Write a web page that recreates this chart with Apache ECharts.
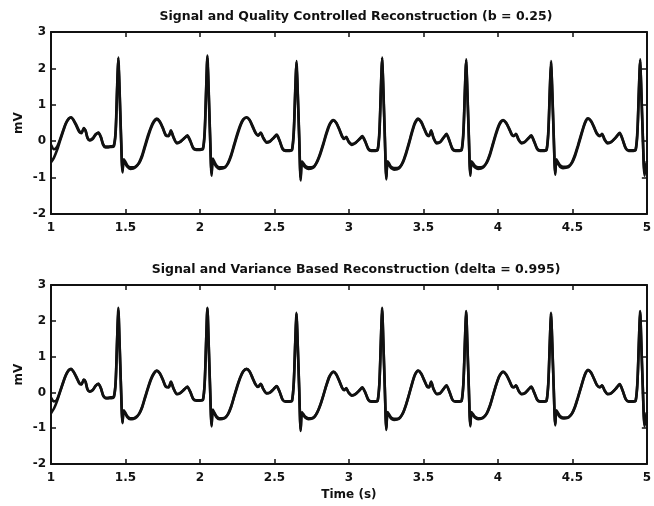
<!DOCTYPE html>
<html>
<head>
<meta charset="utf-8">
<script src="https://cdn.jsdelivr.net/npm/echarts@6/dist/echarts.min.js"></script>
<style>
  html, body { margin: 0; padding: 0; background: #fff; }
  #box { width: 654px; height: 506px; }
</style>
</head>
<body>
<div id="box"></div>
<script>
// time axis (s) at its turning points
const timeS = [
  1.000, 1.020, 1.040, 1.060, 1.080, 1.100, 1.120, 1.135, 1.150, 1.170, 1.190, 1.205, 1.220, 1.232, 1.245, 1.260, 1.280, 1.300, 1.318, 1.335, 1.350, 1.365, 1.380, 1.400,
  1.407, 1.422, 1.434, 1.444, 1.452, 1.460, 1.470, 1.480, 1.488, 1.497, 1.512, 1.532, 1.552, 1.572, 1.592, 1.612, 1.632, 1.652, 1.672, 1.692, 1.710, 1.730, 1.750, 1.770, 1.790, 1.805, 1.822, 1.845, 1.865, 1.890, 1.915, 1.935, 1.955, 1.975, 2.000,
  2.020, 2.032, 2.042, 2.050, 2.058, 2.068, 2.078, 2.086, 2.095, 2.110, 2.130, 2.150, 2.170, 2.190, 2.210, 2.230, 2.250, 2.270, 2.290, 2.313, 2.333, 2.353, 2.373, 2.390, 2.408, 2.425, 2.447, 2.470, 2.495, 2.515, 2.535, 2.555, 2.575, 2.603,
  2.618, 2.630, 2.640, 2.648, 2.656, 2.666, 2.676, 2.684, 2.693, 2.708, 2.728, 2.748, 2.768, 2.788, 2.808, 2.828, 2.848, 2.868, 2.885, 2.896, 2.915, 2.935, 2.955, 2.968, 2.982, 2.998, 3.020, 3.045, 3.070, 3.090, 3.110, 3.130, 3.150, 3.178,
  3.193, 3.205, 3.215, 3.223, 3.231, 3.241, 3.251, 3.259, 3.268, 3.283, 3.303, 3.323, 3.343, 3.363, 3.383, 3.403, 3.423, 3.443, 3.465, 3.485, 3.505, 3.525, 3.538, 3.552, 3.568, 3.590, 3.612, 3.635, 3.655, 3.675, 3.695, 3.715, 3.742,
  3.757, 3.769, 3.779, 3.787, 3.795, 3.805, 3.815, 3.823, 3.832, 3.847, 3.867, 3.887, 3.907, 3.927, 3.947, 3.967, 3.987, 4.007, 4.022, 4.035, 4.055, 4.075, 4.095, 4.108, 4.122, 4.138, 4.158, 4.180, 4.204, 4.224, 4.244, 4.264, 4.284, 4.312,
  4.327, 4.339, 4.349, 4.357, 4.365, 4.375, 4.385, 4.393, 4.402, 4.417, 4.437, 4.457, 4.477, 4.497, 4.517, 4.537, 4.557, 4.577, 4.592, 4.605, 4.625, 4.645, 4.665, 4.685, 4.700, 4.716, 4.737, 4.760, 4.790, 4.818, 4.838, 4.858, 4.878, 4.910,
  4.925, 4.937, 4.947, 4.955, 4.963, 4.973, 4.985, 5.000
];

// original ECG (mV)
const signalMv = [
  -0.58, -0.45, -0.25, 0.00, 0.25, 0.48, 0.62, 0.65, 0.58, 0.42, 0.25, 0.22, 0.36, 0.30, 0.08, 0.02, 0.06, 0.18, 0.24, 0.12, -0.08, -0.15, -0.15, -0.14,
  -0.14, -0.12, 0.30, 1.50, 2.30, 1.40, 0.10, -0.86, -0.50, -0.55, -0.66, -0.72, -0.72, -0.68, -0.60, -0.42, -0.15, 0.12, 0.36, 0.53, 0.60, 0.53, 0.36, 0.16, 0.14, 0.30, 0.12, -0.04, -0.02, 0.06, 0.16, 0.02, -0.18, -0.22, -0.22,
  -0.20, 0.30, 1.50, 2.35, 1.40, 0.10, -0.95, -0.48, -0.55, -0.66, -0.72, -0.72, -0.70, -0.60, -0.40, -0.12, 0.15, 0.40, 0.58, 0.65, 0.58, 0.40, 0.22, 0.15, 0.24, 0.10, -0.02, 0.00, 0.10, 0.18, 0.02, -0.20, -0.25, -0.25,
  -0.23, 0.30, 1.45, 2.20, 1.35, 0.10, -1.08, -0.55, -0.60, -0.68, -0.72, -0.72, -0.68, -0.56, -0.36, -0.10, 0.18, 0.42, 0.54, 0.57, 0.50, 0.32, 0.12, 0.06, 0.12, 0.00, -0.08, -0.04, 0.06, 0.14, 0.00, -0.20, -0.25, -0.25,
  -0.23, 0.30, 1.50, 2.30, 1.40, 0.10, -1.05, -0.55, -0.60, -0.70, -0.74, -0.74, -0.70, -0.58, -0.36, -0.08, 0.22, 0.48, 0.60, 0.52, 0.34, 0.16, 0.14, 0.30, 0.10, -0.04, -0.02, 0.10, 0.20, 0.02, -0.20, -0.25, -0.25,
  -0.23, 0.30, 1.45, 2.25, 1.35, 0.10, -0.95, -0.55, -0.60, -0.68, -0.72, -0.72, -0.68, -0.58, -0.38, -0.10, 0.18, 0.42, 0.53, 0.57, 0.50, 0.34, 0.16, 0.14, 0.20, 0.06, -0.04, -0.02, 0.08, 0.16, 0.00, -0.20, -0.25, -0.25,
  -0.23, 0.30, 1.45, 2.20, 1.35, 0.10, -0.92, -0.50, -0.56, -0.66, -0.70, -0.70, -0.68, -0.60, -0.42, -0.16, 0.12, 0.40, 0.56, 0.62, 0.55, 0.38, 0.20, 0.14, 0.20, 0.06, -0.04, -0.02, 0.10, 0.23, 0.05, -0.18, -0.25, -0.25,
  -0.23, 0.30, 1.45, 2.25, 1.35, 0.10, -0.95, -0.55
];

// quality controlled reconstruction, b = 0.25
const qualityReconMv = [
  -0.10, -0.22, -0.16, 0.04, 0.28, 0.50, 0.63, 0.66, 0.60, 0.45, 0.28, 0.24, 0.34, 0.28, 0.10, 0.03, 0.08, 0.19, 0.23, 0.10, -0.10, -0.17, -0.17, -0.16,
  -0.16, -0.14, 0.22, 1.40, 2.24, 1.48, 0.18, -0.80, -0.56, -0.60, -0.70, -0.76, -0.75, -0.70, -0.58, -0.38, -0.10, 0.17, 0.40, 0.56, 0.62, 0.55, 0.38, 0.18, 0.15, 0.28, 0.10, -0.06, -0.03, 0.07, 0.14, 0.00, -0.20, -0.24, -0.24,
  -0.22, 0.22, 1.42, 2.30, 1.48, 0.18, -0.88, -0.54, -0.60, -0.70, -0.76, -0.75, -0.72, -0.58, -0.36, -0.08, 0.20, 0.44, 0.60, 0.66, 0.59, 0.42, 0.24, 0.16, 0.22, 0.08, -0.04, -0.01, 0.09, 0.16, 0.00, -0.22, -0.27, -0.27,
  -0.25, 0.22, 1.36, 2.15, 1.42, 0.18, -1.00, -0.60, -0.65, -0.72, -0.76, -0.75, -0.70, -0.54, -0.32, -0.06, 0.22, 0.45, 0.56, 0.58, 0.51, 0.34, 0.14, 0.07, 0.11, -0.02, -0.10, -0.05, 0.05, 0.12, -0.02, -0.22, -0.27, -0.27,
  -0.25, 0.22, 1.42, 2.25, 1.48, 0.18, -0.98, -0.60, -0.65, -0.74, -0.78, -0.77, -0.72, -0.56, -0.32, -0.04, 0.26, 0.51, 0.62, 0.54, 0.36, 0.18, 0.15, 0.28, 0.08, -0.06, -0.03, 0.09, 0.18, 0.00, -0.22, -0.27, -0.27,
  -0.25, 0.22, 1.38, 2.20, 1.42, 0.18, -0.88, -0.60, -0.65, -0.72, -0.76, -0.75, -0.70, -0.56, -0.34, -0.06, 0.22, 0.45, 0.55, 0.58, 0.51, 0.36, 0.18, 0.15, 0.19, 0.04, -0.06, -0.03, 0.07, 0.14, -0.02, -0.22, -0.27, -0.27,
  -0.25, 0.22, 1.38, 2.15, 1.42, 0.18, -0.86, -0.56, -0.61, -0.70, -0.74, -0.73, -0.70, -0.58, -0.38, -0.12, 0.16, 0.43, 0.58, 0.63, 0.56, 0.40, 0.22, 0.15, 0.19, 0.04, -0.06, -0.03, 0.09, 0.21, 0.03, -0.20, -0.27, -0.27,
  -0.25, 0.22, 1.38, 2.20, 1.42, 0.18, -0.88, -0.60
];

// variance based reconstruction, delta = 0.995
const varianceReconMv = [
  -0.15, -0.25, -0.20, 0.02, 0.27, 0.49, 0.63, 0.66, 0.59, 0.44, 0.27, 0.23, 0.35, 0.29, 0.09, 0.03, 0.07, 0.19, 0.24, 0.11, -0.09, -0.16, -0.17, -0.16,
  -0.16, -0.13, 0.26, 1.45, 2.36, 1.45, 0.15, -0.82, -0.54, -0.58, -0.69, -0.75, -0.74, -0.70, -0.59, -0.40, -0.12, 0.15, 0.39, 0.55, 0.61, 0.54, 0.37, 0.17, 0.15, 0.29, 0.11, -0.05, -0.03, 0.07, 0.15, 0.01, -0.19, -0.23, -0.23,
  -0.21, 0.26, 1.46, 2.36, 1.45, 0.15, -0.90, -0.52, -0.58, -0.69, -0.75, -0.74, -0.71, -0.59, -0.38, -0.10, 0.18, 0.42, 0.59, 0.66, 0.59, 0.41, 0.23, 0.16, 0.23, 0.09, -0.03, -0.01, 0.09, 0.17, 0.01, -0.21, -0.26, -0.26,
  -0.24, 0.26, 1.40, 2.22, 1.40, 0.15, -1.03, -0.58, -0.63, -0.71, -0.75, -0.74, -0.69, -0.55, -0.34, -0.08, 0.20, 0.44, 0.55, 0.58, 0.51, 0.33, 0.13, 0.07, 0.11, -0.01, -0.09, -0.05, 0.05, 0.13, -0.01, -0.21, -0.26, -0.26,
  -0.24, 0.26, 1.46, 2.36, 1.45, 0.15, -1.00, -0.58, -0.63, -0.73, -0.77, -0.76, -0.71, -0.57, -0.34, -0.06, 0.24, 0.50, 0.61, 0.53, 0.35, 0.17, 0.15, 0.29, 0.09, -0.05, -0.03, 0.09, 0.19, 0.01, -0.21, -0.26, -0.26,
  -0.24, 0.26, 1.40, 2.27, 1.40, 0.15, -0.90, -0.58, -0.63, -0.71, -0.75, -0.74, -0.69, -0.57, -0.36, -0.08, 0.20, 0.44, 0.54, 0.58, 0.51, 0.35, 0.17, 0.15, 0.19, 0.05, -0.05, -0.03, 0.07, 0.15, -0.01, -0.21, -0.26, -0.26,
  -0.24, 0.26, 1.40, 2.22, 1.40, 0.15, -0.88, -0.54, -0.59, -0.69, -0.73, -0.72, -0.69, -0.59, -0.40, -0.14, 0.14, 0.42, 0.57, 0.63, 0.56, 0.39, 0.21, 0.15, 0.19, 0.05, -0.05, -0.03, 0.09, 0.22, 0.04, -0.19, -0.26, -0.26,
  -0.24, 0.26, 1.40, 2.27, 1.40, 0.15, -0.90, -0.58
];

const titles = [
  'Signal and Quality Controlled Reconstruction (b = 0.25)',
  'Signal and Variance Based Reconstruction (delta = 0.995)'
];

const font = 'DejaVu Sans';
const ink = '#111';

const pairs = arr => timeS.map((t, i) => [t, arr[i]]);

const grids = [
  { left: 51, top: 32, width: 600, height: 182 },
  { left: 51, top: 285, width: 600, height: 179 }
];

const xAxes = [];
const yAxes = [];
grids.forEach((g, i) => {
  const tick = { show: true, inside: true, length: 5, lineStyle: { color: ink, width: 1.5 } };
  xAxes.push({
    type: 'value', gridIndex: i, min: 1, max: 5, interval: 0.5, position: 'bottom',
    axisLine: { show: true, onZero: false, lineStyle: { color: ink, width: 2 } },
    axisTick: tick,
    splitLine: { show: false },
    axisLabel: { color: ink, fontFamily: font, fontWeight: 'bold', fontSize: 12, margin: 8 },
    name: i === 1 ? 'Time (s)' : '',
    nameLocation: 'middle', nameGap: 25,
    nameTextStyle: { color: ink, fontFamily: font, fontWeight: 'bold', fontSize: 12 }
  });
  xAxes.push({
    type: 'value', gridIndex: i, min: 1, max: 5, interval: 0.5, position: 'top',
    axisLine: { show: true, onZero: false, lineStyle: { color: ink, width: 2 } },
    axisTick: tick, axisLabel: { show: false }, splitLine: { show: false }
  });
  yAxes.push({
    type: 'value', gridIndex: i, min: -2, max: 3, interval: 1, position: 'left',
    axisLine: { show: true, onZero: false, lineStyle: { color: ink, width: 2 } },
    axisTick: tick,
    splitLine: { show: false },
    axisLabel: { color: ink, fontFamily: font, fontWeight: 'bold', fontSize: 12, margin: 5 },
    name: 'mV', nameLocation: 'middle', nameGap: 26, nameRotate: 90, nameMoveOverlap: false,
    nameTextStyle: { color: ink, fontFamily: font, fontWeight: 'bold', fontSize: 12 }
  });
  yAxes.push({
    type: 'value', gridIndex: i, min: -2, max: 3, interval: 1, position: 'right',
    axisLine: { show: true, onZero: false, lineStyle: { color: ink, width: 2 } },
    axisTick: tick, axisLabel: { show: false }, splitLine: { show: false }
  });
});

const line = (name, arr, i) => ({
  name: name, type: 'line', xAxisIndex: i * 2, yAxisIndex: i * 2,
  data: pairs(arr), showSymbol: false, symbol: 'none', smooth: 0.25,
  lineStyle: { color: ink, width: 2.6 }
});

const chart = echarts.init(document.getElementById('box'), null, { renderer: 'canvas' });
chart.setOption({
  animation: false,
  backgroundColor: '#fff',
  title: [
    { text: titles[0], left: 351, top: 5, textAlign: 'center',
      textStyle: { color: ink, fontFamily: font, fontWeight: 'bold', fontSize: 12.5 } },
    { text: titles[1], left: 351, top: 258, textAlign: 'center',
      textStyle: { color: ink, fontFamily: font, fontWeight: 'bold', fontSize: 12.5 } }
  ],
  grid: grids,
  xAxis: xAxes,
  yAxis: yAxes,
  series: [
    line('Signal', signalMv, 0),
    line('Quality controlled', qualityReconMv, 0),
    line('Signal', signalMv, 1),
    line('Variance based', varianceReconMv, 1)
  ]
});
</script>
</body>
</html>
